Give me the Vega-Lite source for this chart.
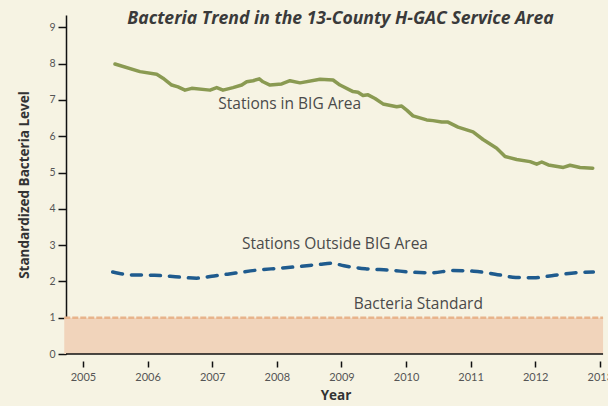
{
  "$schema": "https://vega.github.io/schema/vega-lite/v6.json",
  "width": 539,
  "height": 339,
  "autosize": "none",
  "padding": {"left": 66, "top": 15, "right": 3, "bottom": 52},
  "background": "#f6f3e3",
  "config": {"view": {"stroke": null}, "font": "Lato"},
  "title": {"text": "Bacteria Trend in the 13-County H-GAC Service Area", "font": "Open Sans", "fontSize": 17.6, "fontWeight": "bold", "fontStyle": "italic", "color": "#3a3a3a", "offset": -13, "anchor": "middle", "dx": 5},
  "datasets": {
    "big": [
      {"year": 2005.495, "v": 7.99}, {"year": 2005.882, "v": 7.78}, {"year": 2006.141, "v": 7.71}, {"year": 2006.238, "v": 7.6},
      {"year": 2006.373, "v": 7.41}, {"year": 2006.471, "v": 7.36}, {"year": 2006.579, "v": 7.27}, {"year": 2006.683, "v": 7.32},
      {"year": 2006.966, "v": 7.27}, {"year": 2007.07, "v": 7.34}, {"year": 2007.167, "v": 7.27}, {"year": 2007.322, "v": 7.34},
      {"year": 2007.457, "v": 7.41}, {"year": 2007.534, "v": 7.5}, {"year": 2007.632, "v": 7.53}, {"year": 2007.729, "v": 7.58},
      {"year": 2007.786, "v": 7.5}, {"year": 2007.895, "v": 7.41}, {"year": 2008.076, "v": 7.44}, {"year": 2008.204, "v": 7.53},
      {"year": 2008.359, "v": 7.47}, {"year": 2008.669, "v": 7.57}, {"year": 2008.87, "v": 7.55}, {"year": 2008.978, "v": 7.41},
      {"year": 2009.18, "v": 7.23}, {"year": 2009.257, "v": 7.21}, {"year": 2009.334, "v": 7.12}, {"year": 2009.412, "v": 7.14},
      {"year": 2009.52, "v": 7.04}, {"year": 2009.644, "v": 6.89}, {"year": 2009.856, "v": 6.81}, {"year": 2009.933, "v": 6.83},
      {"year": 2010.011, "v": 6.72}, {"year": 2010.108, "v": 6.56}, {"year": 2010.32, "v": 6.45}, {"year": 2010.418, "v": 6.43},
      {"year": 2010.553, "v": 6.39}, {"year": 2010.65, "v": 6.39}, {"year": 2010.805, "v": 6.25}, {"year": 2011.037, "v": 6.12},
      {"year": 2011.192, "v": 5.91}, {"year": 2011.404, "v": 5.67}, {"year": 2011.533, "v": 5.44}, {"year": 2011.713, "v": 5.36},
      {"year": 2011.92, "v": 5.3}, {"year": 2012.023, "v": 5.23}, {"year": 2012.101, "v": 5.29}, {"year": 2012.203, "v": 5.21},
      {"year": 2012.435, "v": 5.14}, {"year": 2012.539, "v": 5.2}, {"year": 2012.693, "v": 5.14}, {"year": 2012.89, "v": 5.12}
    ],
    "outside": [
      {"year": 2005.46, "v": 2.26}, {"year": 2005.73, "v": 2.18}, {"year": 2006.11, "v": 2.17}, {"year": 2006.49, "v": 2.12},
      {"year": 2006.76, "v": 2.09}, {"year": 2007.03, "v": 2.15}, {"year": 2007.36, "v": 2.23}, {"year": 2007.69, "v": 2.31},
      {"year": 2008.01, "v": 2.36}, {"year": 2008.34, "v": 2.41}, {"year": 2008.66, "v": 2.47}, {"year": 2008.85, "v": 2.5},
      {"year": 2009.04, "v": 2.43}, {"year": 2009.37, "v": 2.35}, {"year": 2009.75, "v": 2.31}, {"year": 2010.13, "v": 2.25},
      {"year": 2010.4, "v": 2.24}, {"year": 2010.73, "v": 2.3}, {"year": 2011.05, "v": 2.28}, {"year": 2011.38, "v": 2.2},
      {"year": 2011.7, "v": 2.11}, {"year": 2011.98, "v": 2.1}, {"year": 2012.3, "v": 2.17}, {"year": 2012.63, "v": 2.24},
      {"year": 2012.9, "v": 2.26}
    ],
    "stdArea": [{"year": 2004.71, "year2": 2013.05, "v": 0, "v2": 1}],
    "stdLine": [{"year": 2004.71, "year2": 2013.05, "v": 1}],
    "base": [{"year": 2004.737, "year2": 2013.05, "v": 0}],
    "labels": [
      {"year": 2008.2, "v": 6.89, "label": "Stations in BIG Area"},
      {"year": 2008.9, "v": 3.03, "label": "Stations Outside BIG Area"},
      {"year": 2010.19, "v": 1.38, "label": "Bacteria Standard"}
    ]
  },
  "encoding": {
    "x": {"field": "year", "type": "quantitative", "scale": {"domain": [2004.737, 2013.08], "nice": false, "zero": false},
      "axis": {"values": [2005, 2006, 2007, 2008, 2009, 2010, 2011, 2012, 2013], "format": "d", "domain": false, "grid": false, "offset": 7, "tickSize": 6, "tickWidth": 1.5, "tickColor": "#111", "labelFont": "Lato", "labelFontSize": 11, "labelColor": "#555", "labelPadding": 4, "labelFlush": false, "labelOverlap": false, "title": "Year", "titleFont": "Open Sans", "titleFontSize": 13.5, "titleFontWeight": "bold", "titleColor": "#333", "titlePadding": 6}},
    "y": {"field": "v", "type": "quantitative", "scale": {"domain": [0, 9.34], "nice": false},
      "axis": {"values": [0, 1, 2, 3, 4, 5, 6, 7, 8, 9], "labelOverlap": false, "grid": false, "domainColor": "#111", "domainWidth": 1.5, "tickSize": 8, "tickWidth": 1.5, "tickColor": "#111", "labelFont": "Lato", "labelFontSize": 10.5, "labelColor": "#555", "labelPadding": 3, "title": "Standardized Bacteria Level", "titleFont": "Open Sans", "titleFontSize": 13.5, "titleFontWeight": "bold", "titleColor": "#333", "titlePadding": 17}}
  },
  "layer": [
    {
      "data": {"name": "stdArea"},
      "mark": {"type": "rect", "color": "#f1d4bb", "clip": false},
      "encoding": {"x2": {"field": "year2"}, "y2": {"field": "v2"}}
    },
    {
      "data": {"name": "stdLine"},
      "mark": {"type": "rule", "color": "#e8b48c", "strokeWidth": 2.5, "strokeDash": [6, 2]},
      "encoding": {"x2": {"field": "year2"}}
    },
    {
      "data": {"name": "base"},
      "mark": {"type": "rule", "color": "#111", "strokeWidth": 1.5},
      "encoding": {"x2": {"field": "year2"}}
    },
    {
      "data": {"name": "big"},
      "mark": {"type": "line", "color": "#8a9a52", "strokeWidth": 3.5, "strokeCap": "round", "strokeJoin": "round"},
      "encoding": {}
    },
    {
      "data": {"name": "outside"},
      "mark": {"type": "line", "color": "#1f5b8e", "strokeWidth": 3.5, "strokeDash": [10, 9], "strokeCap": "round", "interpolate": "monotone"},
      "encoding": {}
    },
    {
      "data": {"name": "labels"},
      "mark": {"type": "text", "font": "Open Sans", "fontSize": 15.5, "color": "#4a4a4a", "align": "center", "baseline": "middle"},
      "encoding": {"text": {"field": "label"}}
    }
  ]
}
